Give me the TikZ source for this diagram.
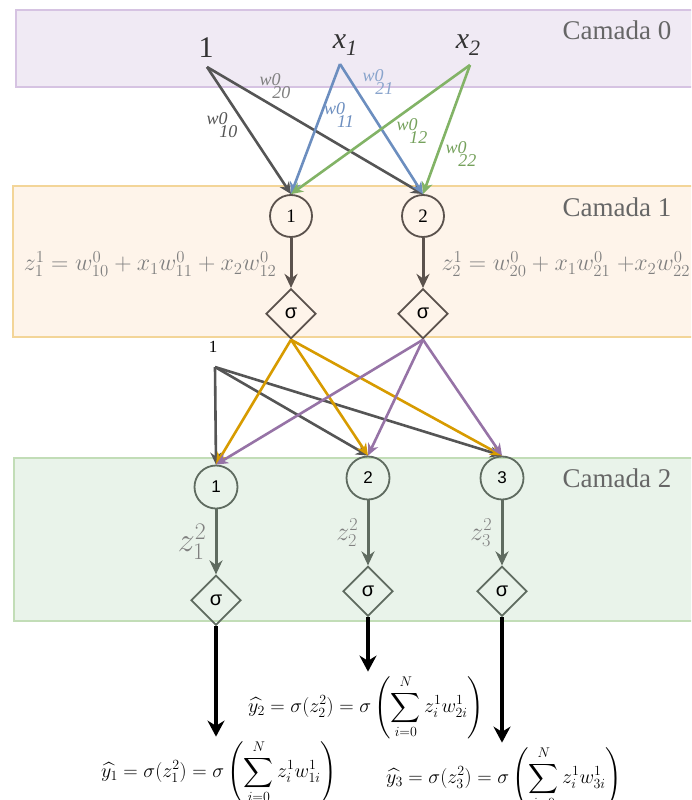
\documentclass[tikz,border=0pt]{standalone}
\usepackage{fix-cm}
\usepackage{amsmath}
\usepackage{fontspec}
\setmainfont{Liberation Serif}
\setsansfont{Liberation Sans}
\usetikzlibrary{arrows.meta,positioning,shapes.geometric,calc}

\definecolor{purpfill}{HTML}{F0EAF4}
\definecolor{purpline}{HTML}{D6C3E2}
\definecolor{orfill}{HTML}{FEF4EA}
\definecolor{orline}{HTML}{F3D598}
\definecolor{grfill}{HTML}{E9F3EA}
\definecolor{grline}{HTML}{C2DDB7}
\definecolor{edgegray}{HTML}{555555}
\definecolor{edgeblue}{HTML}{6C8EBF}
\definecolor{edgegreen}{HTML}{82B366}
\definecolor{edgeorange}{HTML}{D79B00}
\definecolor{edgepurple}{HTML}{9673A6}
\definecolor{brownline}{HTML}{5B524D}
\definecolor{greenline}{HTML}{5F6B60}
\definecolor{layertext}{HTML}{666666}
\definecolor{formgray}{HTML}{808080}

\newcommand{\wlab}[1]{w0\hspace{-0.45em}\raisebox{-0.7em}{#1}}

\begin{document}
\begin{tikzpicture}[x=1pt, y=-1pt,
    band/.style={draw=#1line, fill=#1fill, line width=1.8pt},
    camada/.style={anchor=west, text=layertext, font=\fontsize{27}{30}\selectfont},
    inlabel/.style={text=black!80, font=\fontsize{30}{34}\selectfont},
    neuronA/.style={circle, draw=brownline, line width=1.8pt, minimum size=42pt, inner sep=0pt, font=\fontsize{19}{20}\selectfont},
    neuronB/.style={circle, draw=greenline, line width=1.8pt, minimum size=43pt, inner sep=0pt, font=\sffamily\fontsize{17}{20}\selectfont},
    actA/.style={diamond, draw=brownline, line width=1.8pt, minimum width=50pt, minimum height=50pt, inner sep=0pt, font=\sffamily\fontsize{20}{22}\selectfont},
    actB/.style={actA, draw=greenline},
    arrow/.style={-{Stealth[length=12pt, width=11pt]}, line width=2.6pt},
    innerarrow/.style={-{Stealth[length=14pt, width=13pt]}, line width=3pt},
    outarrow/.style={-{Stealth[length=16pt, width=17pt]}, line width=3.4pt, black},
    wlabel/.style={font=\fontsize{18}{20}\selectfont\itshape, inner sep=0pt},
]
\useasboundingbox (0,0) rectangle (691,800);
\clip (0,0) rectangle (691,800);

% Camadas
\draw[band=purp] (16,10) rectangle (700,87);
\draw[band=or] (13,186) rectangle (700,337);
\draw[band=gr] (14,458) rectangle (700,621);
\node[camada] (c0) at (559,30) {Camada 0};
\node[camada] (c1) at (559,207) {Camada 1};
\node[camada] (c2) at (559,478) {Camada 2};

% Entradas
\node[inlabel] (one) at (206,48) {1};
\node[inlabel] (x1) at (345,45) {\itshape x\raisebox{-0.25em}{\fontsize{22}{24}\selectfont 1}};
\node[inlabel] (x2) at (468,45) {\itshape x\raisebox{-0.25em}{\fontsize{22}{24}\selectfont 2}};
\coordinate (s0) at (207,67);
\coordinate (s1) at (340,64);
\coordinate (s2) at (470,65);

% Camada 1
\node[neuronA] (h1) at (291,216) {1};
\node[neuronA] (h2) at (423,216) {2};
\node[actA, below=50pt of h1] (a1) {σ};
\node[actA, below=50pt of h2] (a2) {σ};

\draw[arrow, edgegray] (s0) -- (h1.north);
\draw[arrow, edgegray] (s0) -- (h2.north);
\draw[arrow, edgeblue] (s1) -- (h1.north);
\draw[arrow, edgeblue] (s1) -- (h2.north);
\draw[arrow, edgegreen] (s2) -- (h1.north);
\draw[arrow, edgegreen] (s2) -- (h2.north);

\node[wlabel, text=edgegray] (w10) at (222,125) {\wlab{10}};
\node[wlabel, text=gray] (w20) at (275,86) {\wlab{20}};
\node[wlabel, text=edgeblue] (w11) at (339,115) {\wlab{11}};
\node[wlabel, text=edgeblue!80] (w21) at (378,82) {\wlab{21}};
\node[wlabel, text=edgegreen!90!black] (w12) at (412,131) {\wlab{12}};
\node[wlabel, text=edgegreen!90!black] (w22) at (461,154) {\wlab{22}};

\draw[innerarrow, brownline] (h1) -- (a1);
\draw[innerarrow, brownline] (h2) -- (a2);
\node[anchor=east, text=formgray, font=\fontsize{24}{28}\selectfont] (f1) at (280,264)
    {$z_1^1 = w_{10}^0 + x_1w_{11}^0 + x_2w_{12}^0$};
\node[anchor=west, text=formgray, font=\fontsize{24}{28}\selectfont] (f2) at (438,264)
    {$z_2^1 = w_{20}^0 + x_1w_{21}^0\;{+}x_2w_{22}^0$};

% Camada 2
\node[font=\fontsize{17}{18}\selectfont] (bias) at (213,347) {1};
\coordinate (s3) at (215,367);
\node[neuronB] (o1) at (216,487) {1};
\node[neuronB] (o2) at (368,478) {2};
\node[neuronB] (o3) at (502,478) {3};
\node[actB, below=65pt of o1] (b1) {σ};
\node[actB, below=65pt of o2] (b2) {σ};
\node[actB, below=65pt of o3] (b3) {σ};

\draw[arrow, edgegray] (s3) -- (o1.north);
\draw[arrow, edgegray] (s3) -- (o2.north);
\draw[arrow, edgegray] (s3) -- (o3.north);
\draw[arrow, edgeorange] (a1.south) -- (o1.north);
\draw[arrow, edgeorange] (a1.south) -- (o2.north);
\draw[arrow, edgeorange] (a1.south) -- (o3.north);
\draw[arrow, edgepurple] (a2.south) -- (o1.north);
\draw[arrow, edgepurple] (a2.south) -- (o2.north);
\draw[arrow, edgepurple] (a2.south) -- (o3.north);

\draw[innerarrow, greenline] (o1) -- node[left=5pt, text=formgray, font=\fontsize{34}{36}\selectfont] {$z_1^2$} (b1);
\draw[innerarrow, greenline] (o2) -- node[left=5pt, text=formgray, font=\fontsize{26}{28}\selectfont] {$z_2^2$} (b2);
\draw[innerarrow, greenline] (o3) -- node[left=5pt, text=formgray, font=\fontsize{26}{28}\selectfont] {$z_3^2$} (b3);

% Saidas
\node[font=\fontsize{20}{24}\selectfont] (y1) at (219,772)
    {$\displaystyle \widehat{y_1} = \sigma(z_1^2) = \sigma\left(\sum_{i=0}^{N} z_i^1 w_{1i}^1\right)$};
\node[font=\fontsize{20}{24}\selectfont] (y2) at (366,707)
    {$\displaystyle \widehat{y_2} = \sigma(z_2^2) = \sigma\left(\sum_{i=0}^{N} z_i^1 w_{2i}^1\right)$};
\node[font=\fontsize{20}{24}\selectfont] (y3) at (504,778)
    {$\displaystyle \widehat{y_3} = \sigma(z_3^2) = \sigma\left(\sum_{i=0}^{N} z_i^1 w_{3i}^1\right)$};

\draw[outarrow] (b1) -- (b1 |- y1.north);
\draw[outarrow] (b2) -- (b2 |- y2.north);
\draw[outarrow] (b3) -- (b3 |- y3.north);
\end{tikzpicture}
\end{document}
